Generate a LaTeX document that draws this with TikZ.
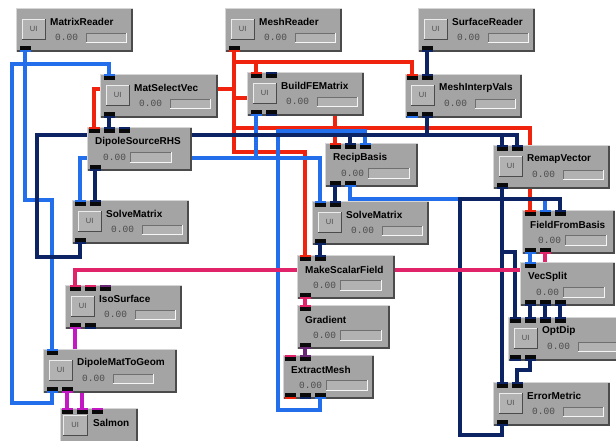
\documentclass[tikz,border=0pt]{standalone}
\usepackage{fontspec}
\setmainfont{Liberation Sans}
\newfontfamily\valfont{Liberation Mono}

% data-type colours of ports and wires
\definecolor{cblue}{RGB}{35,110,235}
\definecolor{cred}{RGB}{240,35,15}
\definecolor{cnavy}{RGB}{12,35,100}
\definecolor{cpink}{RGB}{225,35,105}
\definecolor{cpurple}{RGB}{105,40,115}
\definecolor{cmag}{RGB}{195,25,195}
% module chrome
\definecolor{modfill}{RGB}{164,164,164}
\definecolor{modlight}{RGB}{214,214,214}
\definecolor{moddark}{RGB}{75,75,75}
\definecolor{btnfill}{RGB}{178,178,178}
\definecolor{txtgray}{RGB}{75,75,75}
\definecolor{portblack}{RGB}{10,10,10}

\tikzset{
  wire/.style={line width=3.8pt},
  modbody/.style={anchor=north west, fill=modfill, minimum height=44pt,
    inner sep=0pt, outer sep=0pt},
  edgelight/.style={draw=modlight, line width=1pt},
  edgedark/.style={draw=moddark, line width=1.6pt},
  uibtn/.style={anchor=north west, fill=btnfill, minimum width=23pt,
    minimum height=20pt, inner sep=0pt, text=txtgray,
    font=\fontsize{7.5}{8}\selectfont},
  modtitle/.style={anchor=west, inner sep=0pt,
    font=\fontsize{10}{11}\selectfont\bfseries},
  modval/.style={anchor=west, inner sep=0pt, text=txtgray,
    font=\fontsize{9.5}{10}\valfont},
}

% sunken progress bar, x from #1 to #2, y from #3 to #4
\newcommand{\progbar}[4]{%
  \fill[modfill!85!white] (#1,#3) rectangle (#2,#4);
  \draw[moddark!80, line width=0.8pt] (#1,#4) -- (#1,#3) -- (#2,#3);
  \draw[white!92!gray, line width=0.8pt] (#1,#4) -- (#2,#4) -- (#2,#3);}

% raised frame of a module body of width #1
\newcommand{\modframe}[1]{%
  \draw[edgelight] (0.5,43.5) -- (0.5,0.5) -- (#1-0.5,0.5);
  \draw[edgedark] (0.8,43.2) -- (#1-0.8,43.2) -- (#1-0.8,0.8);}

% bevel of a UI button node
\newcommand{\btnbevel}[1]{%
  \draw[white!85!gray, line width=0.8pt] (#1.south west) -- (#1.north west) -- (#1.north east);
  \draw[moddark, line width=0.8pt] (#1.south west) -- (#1.south east) -- (#1.north east);}

% module with a UI button: id, left, top, width, title
\newcommand{\uimod}[5]{%
  \begin{scope}[shift={(#2,#3)}]
    \node[modbody, minimum width=#4pt] (#1) at (0,0) {};
    \modframe{#4}
    \node[uibtn] (#1-ui) at (6,11) {UI};
    \btnbevel{#1-ui}
    \node[modtitle] (#1-t) at (34,14) {#5};
    \node[modval] (#1-v) at (39,29.5) {0.00};
    \progbar{70}{110}{25}{34}
  \end{scope}}

% module without a UI button: id, left, top, width, title
\newcommand{\plainmod}[5]{%
  \begin{scope}[shift={(#2,#3)}]
    \node[modbody, minimum width=#4pt] (#1) at (0,0) {};
    \modframe{#4}
    \node[modtitle] (#1-t) at (8,15) {#5};
    \node[modval] (#1-v) at (16,30.5) {0.00};
    \progbar{43}{84}{25}{35}
  \end{scope}}

% ports: input on a top edge, output on a bottom edge
\newcommand{\pin}[2]{%
  \fill[#2] (#1) ++(-5.5,0) rectangle ++(11,2);
  \fill[portblack] (#1) ++(-5.5,2) rectangle ++(11,4);}
\newcommand{\pout}[2]{%
  \fill[portblack] (#1) ++(-5.5,-6) rectangle ++(11,4);
  \fill[#2] (#1) ++(-5.5,-2) rectangle ++(11,2);}

\begin{document}
\begin{tikzpicture}[x=1pt,y=-1pt]
\useasboundingbox (0,0) rectangle (616,440);
\clip (0,0) rectangle (616,440);
\fill[white] (0,0) rectangle (616,440);

% ---------- port positions ----------
\coordinate (mr-o1) at (25,52);
\coordinate (mshr-o1) at (234,52);
\coordinate (sr-o1) at (427,52);
\coordinate (msv-i1) at (109,74);   \coordinate (msv-o1) at (109,118);
\coordinate (bfe-i1) at (256,72);   \coordinate (bfe-i2) at (271,72);
\coordinate (bfe-o1) at (256,116);  \coordinate (bfe-o2) at (271,116);
\coordinate (miv-i1) at (412,74);   \coordinate (miv-i2) at (427,74);
\coordinate (miv-o1) at (412,118);  \coordinate (miv-o2) at (427,118);
\coordinate (dsr-i1) at (94,127);   \coordinate (dsr-i2) at (109,127);
\coordinate (dsr-i3) at (124,127);  \coordinate (dsr-o1) at (95,171);
\coordinate (rb-i1) at (335,143);   \coordinate (rb-i2) at (350,143);
\coordinate (rb-i3) at (365,143);
\coordinate (rb-o1) at (335,187);   \coordinate (rb-o2) at (350,187);
\coordinate (rv-i1) at (502,145);   \coordinate (rv-i2) at (517,145);
\coordinate (rv-o1) at (502,189);
\coordinate (sml-i1) at (80,200);   \coordinate (sml-i2) at (95,200);
\coordinate (sml-o1) at (80,244);
\coordinate (smm-i1) at (320,201);  \coordinate (smm-i2) at (335,201);
\coordinate (smm-o1) at (320,245);
\coordinate (ffb-i1) at (530,210);  \coordinate (ffb-i2) at (545,210);
\coordinate (ffb-i3) at (560,210);
\coordinate (ffb-o1) at (530,254);  \coordinate (ffb-o2) at (545,254);
\coordinate (msf-i1) at (305,255);  \coordinate (msf-i2) at (320,255);
\coordinate (msf-o1) at (305,299);
\coordinate (vs-i1) at (530,262);
\coordinate (vs-o1) at (530,306);   \coordinate (vs-o2) at (545,306);
\coordinate (vs-o3) at (560,306);
\coordinate (iso-i1) at (75,285);   \coordinate (iso-i2) at (90,285);
\coordinate (iso-i3) at (105,285);
\coordinate (iso-o1) at (75,329);   \coordinate (iso-o2) at (90,329);
\coordinate (grad-i1) at (305,305); \coordinate (grad-o1) at (305,349);
\coordinate (od-i1) at (515,317);   \coordinate (od-i2) at (530,317);
\coordinate (od-i3) at (545,317);   \coordinate (od-i4) at (560,317);
\coordinate (od-o1) at (515,361);   \coordinate (od-o2) at (530,361);
\coordinate (dmg-i1) at (52,349);
\coordinate (dmg-o1) at (52,393);   \coordinate (dmg-o2) at (67,393);
\coordinate (em-i1) at (290,355);   \coordinate (em-i2) at (305,355);
\coordinate (em-o1) at (290,399);   \coordinate (em-o2) at (305,399);
\coordinate (em-o3) at (320,399);
\coordinate (erm-i1) at (502,382);  \coordinate (erm-i2) at (517,382);
\coordinate (erm-o1) at (502,426);
\coordinate (sal-i1) at (67,408);   \coordinate (sal-i2) at (82,408);
\coordinate (sal-i3) at (97,408);

% ---------- wires: mesh (red) ----------
\begin{scope}[wire, draw=cred]
  \draw (mshr-o1) -- (234,62) -| (miv-i1);
  \draw (mshr-o1) -- (234,62) -| (bfe-i1);
  \draw (mshr-o1) -- (234,89) -| (dsr-i1);
  \draw (mshr-o1) -- (234,98) -| (rb-i1);
  \draw (mshr-o1) -- (234,128) -| (ffb-i1);
  \draw (mshr-o1) -- (234,152) -| (msf-i1);
\end{scope}

% ---------- wires: matrices (blue) ----------
\begin{scope}[wire, draw=cblue]
  \draw (mr-o1) -- (25,200) -| (dmg-i1);
  \draw (dmg-o1) -- (52,403) -- (12,403) -- (12,64) -| (msv-i1);
  \draw (bfe-o1) -- (256,158) -| (sml-i1);
  \draw (bfe-o1) -- (256,158) -| (smm-i1);
  \draw (em-o3) -- (320,410) -- (278,410) -- (278,131) -| (rb-i3);
  \draw (rb-o2) -- (350,199) -| (ffb-i2);
  \draw (ffb-o1) -- (vs-i1);
\end{scope}

% ---------- wires: vectors (navy) ----------
\begin{scope}[wire, draw=cnavy]
  \draw (msv-o1) -- (dsr-i2);
  \draw (sr-o1) -- (miv-i2);
  \draw (miv-o2) -- (427,135) -| (rb-i2);
  \draw (miv-o2) -- (427,135) -| (rv-i2);
  \draw (sml-o1) -- (80,257) -- (37,257) -- (37,135) -| (rv-i1);
  \draw (dsr-o1) -- (sml-i2);
  \draw (rb-o1) -- (smm-i2);
  \draw (smm-o1) -- (msf-i2);
  \draw (rv-o1) -- (erm-i1);
  \draw (rv-o1) -- (502,199) -| (ffb-i3);
  \draw (rv-o1) -- (502,252) -| (od-i1);
  \draw (erm-o1) -- (502,435) -- (460,435) -- (460,199) -| (ffb-i3);
  \draw (vs-o1) -- (od-i2);
  \draw (vs-o2) -- (od-i3);
  \draw (vs-o3) -- (od-i4);
  \draw (od-o2) -- (530,370) -| (erm-i2);
\end{scope}

% ---------- wires: fields and geometry ----------
\draw[wire, draw=cpink] (ffb-o2) -- (545,270) -| (iso-i1);
\draw[wire, draw=cpink] (msf-o1) -- (grad-i1);
\draw[wire, draw=cpurple] (grad-o1) -- (em-i2);
\draw[wire, draw=cmag] (iso-o1) -- (75,370) -| (sal-i2);
\draw[wire, draw=cmag] (dmg-o2) -- (sal-i1);

% ---------- modules ----------
\uimod{mr}{16}{8}{117}{MatrixReader}
\uimod{mshr}{225}{8}{117}{MeshReader}
\uimod{sr}{418}{8}{117}{SurfaceReader}
\uimod{msv}{100}{74}{118}{MatSelectVec}
\uimod{bfe}{247}{72}{117}{BuildFEMatrix}
\uimod{miv}{405}{74}{117}{MeshInterpVals}
\plainmod{dsr}{87}{127}{105}{DipoleSourceRHS}
\plainmod{rb}{325}{143}{93}{RecipBasis}
\uimod{rv}{493}{145}{117}{RemapVector}
\uimod{sml}{72}{200}{117}{SolveMatrix}
\uimod{smm}{312}{201}{117}{SolveMatrix}
\plainmod{ffb}{522}{210}{93}{FieldFromBasis}
\plainmod{msf}{297}{255}{98}{MakeScalarField}
\plainmod{vs}{520}{262}{95}{VecSplit}
\uimod{iso}{65}{285}{117}{IsoSurface}
\plainmod{grad}{297}{305}{93}{Gradient}
\uimod{od}{508}{317}{117}{OptDip}
\uimod{dmg}{43}{349}{134}{DipoleMatToGeom}
\plainmod{em}{283}{355}{91}{ExtractMesh}
\uimod{erm}{493}{382}{117}{ErrorMetric}
% viewer module, partly below the canvas edge
\begin{scope}[shift={(60,408)}]
  \node[modbody, minimum width=78pt] (sal) at (0,0) {};
  \modframe{78}
  \node[uibtn, minimum width=24pt] (sal-ui) at (3,7) {UI};
  \btnbevel{sal-ui}
  \node[modtitle] (sal-t) at (33,15) {Salmon};
\end{scope}

% ---------- ports ----------
\pout{mr-o1}{cblue}
\pout{mshr-o1}{cred}
\pout{sr-o1}{cnavy}
\pin{msv-i1}{cblue}   \pout{msv-o1}{cnavy}
\pin{bfe-i1}{cred}    \pin{bfe-i2}{cnavy}
\pout{bfe-o1}{cblue}  \pout{bfe-o2}{cnavy}
\pin{miv-i1}{cred}    \pin{miv-i2}{cnavy}
\pout{miv-o1}{cblue}  \pout{miv-o2}{cnavy}
\pin{dsr-i1}{cred}    \pin{dsr-i2}{cnavy}  \pin{dsr-i3}{cnavy}
\pout{dsr-o1}{cnavy}
\pin{rb-i1}{cred}     \pin{rb-i2}{cnavy}   \pin{rb-i3}{cblue}
\pout{rb-o1}{cnavy}   \pout{rb-o2}{cblue}
\pin{rv-i1}{cnavy}    \pin{rv-i2}{cnavy}   \pout{rv-o1}{cnavy}
\pin{sml-i1}{cblue}   \pin{sml-i2}{cnavy}  \pout{sml-o1}{cnavy}
\pin{smm-i1}{cblue}   \pin{smm-i2}{cnavy}  \pout{smm-o1}{cnavy}
\pin{ffb-i1}{cred}    \pin{ffb-i2}{cblue}  \pin{ffb-i3}{cnavy}
\pout{ffb-o1}{cblue}  \pout{ffb-o2}{cpink}
\pin{msf-i1}{cred}    \pin{msf-i2}{cnavy}  \pout{msf-o1}{cpink}
\pin{vs-i1}{cblue}
\pout{vs-o1}{cnavy}   \pout{vs-o2}{cnavy}  \pout{vs-o3}{cnavy}
\pin{iso-i1}{cpink}   \pin{iso-i2}{cpink}  \pin{iso-i3}{cpurple}
\pout{iso-o1}{cmag}   \pout{iso-o2}{cnavy}
\pin{grad-i1}{cpink}  \pout{grad-o1}{cpurple}
\pin{od-i1}{cnavy}    \pin{od-i2}{cnavy}   \pin{od-i3}{cnavy}  \pin{od-i4}{cnavy}
\pout{od-o1}{cnavy}   \pout{od-o2}{cnavy}
\pin{dmg-i1}{cblue}
\pout{dmg-o1}{cblue}  \pout{dmg-o2}{cmag}
\pin{em-i1}{cpink}    \pin{em-i2}{cpurple}
\pout{em-o1}{cred}    \pout{em-o2}{cnavy}  \pout{em-o3}{cblue}
\pin{erm-i1}{cnavy}   \pin{erm-i2}{cnavy}  \pout{erm-o1}{cnavy}
\pin{sal-i1}{cmag}    \pin{sal-i2}{cmag}   \pin{sal-i3}{cmag}
\end{tikzpicture}
\end{document}
